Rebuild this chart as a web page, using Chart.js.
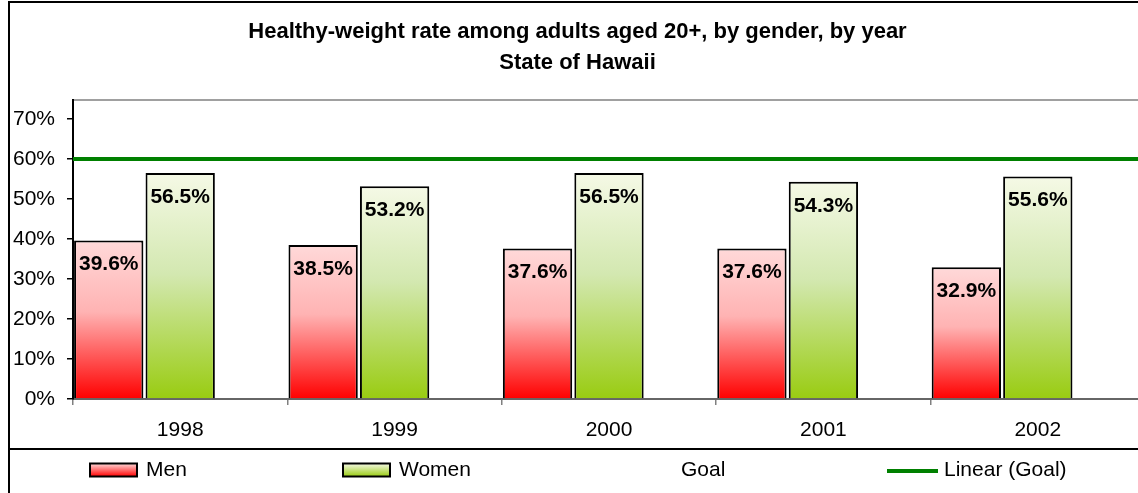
<!DOCTYPE html>
<html>
<head>
<meta charset="utf-8">
<title>Healthy-weight rate, State of Hawaii</title>
<script src="https://cdn.jsdelivr.net/npm/chart.js"></script>
<style>
  html, body { margin: 0; padding: 0; background: #fff; overflow: hidden; }
  canvas { display: block; }
</style>
</head>
<body>
<canvas id="weightChart" width="1150" height="493"></canvas>
<script>
// --- data ---
const years = ['1998', '1999', '2000', '2001', '2002'];
const men = [39.6, 38.5, 37.6, 37.6, 32.9];
const women = [56.5, 53.2, 56.5, 54.3, 55.6];
const goal = [60, 60, 60, 60, 60];
const yTicks = [0, 10, 20, 30, 40, 50, 60, 70];
const seriesNames = ['Men', 'Women', 'Goal', 'Linear (Goal)'];

const fontFamily = "'Liberation Sans', Arial, sans-serif";
const menStops = ['#ffd9d9', '#ffb3b3', '#ff0000'];
const womenStops = ['#f5f9e6', '#d3e8b0', '#99cc11'];
const goalGreen = '#008000';

// one x scale for bars and trend line: year i sits at x = i
const points = arr => arr.map((v, i) => ({ x: i, y: v }));

// vertical gradient over each bar, from its top to the baseline
function barGradient(stops) {
    return function (ctx) {
        const chart = ctx.chart;
        const y = chart.scales.y;
        if (ctx.type !== 'data' || !y || !ctx.parsed) return stops[stops.length - 1];
        const top = y.getPixelForValue(ctx.parsed.y);
        const bottom = y.getPixelForValue(0);
        if (!isFinite(top) || !isFinite(bottom) || top === bottom) return stops[stops.length - 1];
        const g = chart.ctx.createLinearGradient(0, top, 0, bottom);
        g.addColorStop(0, stops[0]);
        g.addColorStop(0.45, stops[1]);
        g.addColorStop(1, stops[2]);
        return g;
    };
}

// frame lines (chart border, plot top, legend box top)
const framePlugin = {
    id: 'frame',
    beforeDraw(chart) {
        const c = chart.ctx;
        const area = chart.chartArea;
        c.save();
        c.strokeStyle = '#000';
        c.lineWidth = 2;
        c.beginPath();
        c.moveTo(9, 493);
        c.lineTo(9, 2);
        c.lineTo(chart.width, 2);
        c.moveTo(9, 449);
        c.lineTo(chart.width, 449);
        c.stroke();
        c.strokeStyle = '#808080';
        c.lineWidth = 1.5;
        c.beginPath();
        c.moveTo(area.left, area.top);
        c.lineTo(chart.width, area.top);
        c.stroke();
        c.restore();
    }
};

// value labels inside the top of each bar
const barLabelPlugin = {
    id: 'barLabels',
    afterDatasetsDraw(chart) {
        const c = chart.ctx;
        c.save();
        c.font = 'bold 21px ' + fontFamily;
        c.fillStyle = '#000';
        c.textAlign = 'center';
        c.textBaseline = 'middle';
        [men, women].forEach((values, di) => {
            chart.getDatasetMeta(di).data.forEach((bar, i) => {
                c.fillText(values[i].toFixed(1) + '%', bar.x, bar.y + 24);
            });
        });
        c.restore();
    }
};

// legend row under the separator line
const legendPlugin = {
    id: 'rowLegend',
    afterDraw(chart) {
        const c = chart.ctx;
        const xs = [90, 343, 625, 887];
        const boxW = 47, boxH = 13, midY = 470;
        c.save();
        c.font = '21px ' + fontFamily;
        c.textBaseline = 'middle';
        c.textAlign = 'left';
        seriesNames.forEach((name, i) => {
            const x = xs[i];
            if (i < 2) {
                const stops = i === 0 ? menStops : womenStops;
                const g = c.createLinearGradient(0, midY - boxH / 2, 0, midY + boxH / 2);
                g.addColorStop(0, stops[0]);
                g.addColorStop(1, stops[2]);
                c.fillStyle = g;
                c.fillRect(x, midY - boxH / 2, boxW, boxH);
                c.strokeStyle = '#000';
                c.lineWidth = 2;
                c.strokeRect(x, midY - boxH / 2, boxW, boxH);
            } else if (i === 3) {
                c.strokeStyle = goalGreen;
                c.lineWidth = 4;
                c.beginPath();
                c.moveTo(x, midY + 1);
                c.lineTo(x + 51, midY + 1);
                c.stroke();
            }
            c.fillStyle = '#000';
            c.fillText(name, x + (i === 3 ? 57 : boxW + 9), midY);
        });
        c.restore();
    }
};

new Chart(document.getElementById('weightChart'), {
    type: 'bar',
    data: {
        datasets: [{
            label: seriesNames[0],
            data: points(men),
            backgroundColor: barGradient(menStops),
            borderColor: '#000',
            borderWidth: 2,
            borderSkipped: 'bottom'
        }, {
            label: seriesNames[1],
            data: points(women),
            backgroundColor: barGradient(womenStops),
            borderColor: '#000',
            borderWidth: 2,
            borderSkipped: 'bottom'
        }, {
            label: seriesNames[2],
            data: points(goal),
            backgroundColor: 'rgba(0,0,0,0)',
            borderWidth: 0
        }, {
            // trend of the goal series, across the whole plot width
            type: 'line',
            label: seriesNames[3],
            data: [{ x: -0.5, y: goal[0] }, { x: years.length - 0.5, y: goal[goal.length - 1] }],
            borderColor: goalGreen,
            borderWidth: 4,
            pointRadius: 0,
            fill: false
        }]
    },
    options: {
        responsive: false,
        animation: false,
        devicePixelRatio: 1,
        layout: { padding: { left: 10, right: 5, top: 0, bottom: 43 } },
        datasets: {
            bar: { categoryPercentage: 1, barPercentage: 0.97 }
        },
        scales: {
            x: {
                type: 'linear',
                min: -0.5,
                max: years.length - 0.5,
                offset: false,
                grid: { offset: true, drawOnChartArea: false, drawTicks: true, tickLength: 6, color: '#808080', lineWidth: 1.5 },
                border: { color: '#666', width: 2 },
                ticks: {
                    color: '#000',
                    font: { family: fontFamily, size: 21 },
                    padding: 13,
                    maxRotation: 0,
                    callback: v => years[v]
                },
                afterBuildTicks(scale) { scale.ticks = years.map((_, i) => ({ value: i })); },
                afterFit(scale) { scale.height = 51; }
            },
            y: {
                min: 0,
                max: 74.75,
                grid: { drawOnChartArea: false, drawTicks: true, tickLength: 6, color: '#000', lineWidth: 1.5 },
                border: { color: '#000', width: 2 },
                ticks: {
                    color: '#000',
                    font: { family: fontFamily, size: 21 },
                    padding: 12,
                    callback: v => v + '%'
                },
                afterBuildTicks(scale) { scale.ticks = yTicks.map(v => ({ value: v })); },
                afterFit(scale) { scale.width = 63; }
            }
        },
        plugins: {
            legend: { display: false },
            tooltip: { enabled: false },
            title: {
                display: true,
                text: ['Healthy-weight rate among adults aged 20+, by gender, by year', 'State of Hawaii'],
                color: '#000',
                font: { family: fontFamily, size: 22, weight: 'bold', lineHeight: 1.43 },
                padding: { top: 16, bottom: 21 }
            }
        }
    },
    plugins: [framePlugin, barLabelPlugin, legendPlugin]
});
</script>
</body>
</html>
